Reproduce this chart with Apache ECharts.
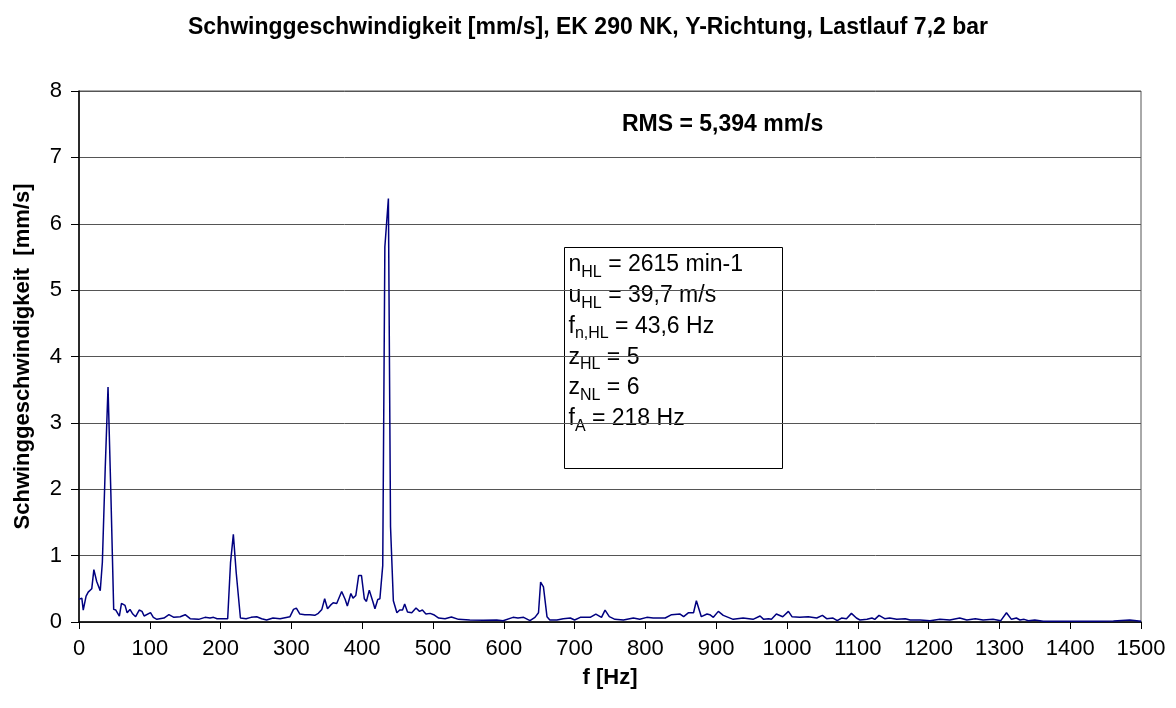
<!DOCTYPE html>
<html>
<head>
<meta charset="utf-8">
<script src="https://cdn.jsdelivr.net/npm/echarts@6/dist/echarts.min.js"></script>
<style>
html, body { margin: 0; padding: 0; background: #fff; }
#chart { width: 1176px; height: 708px; }
</style>
</head>
<body>
<div id="chart"></div>
<script>
// Frequenz [Hz] und Schwinggeschwindigkeit [mm/s]
var freqHz = [0, 4, 6, 10, 13, 18, 21, 25, 30, 33, 37, 41, 45, 49, 52, 57, 60, 65, 68, 72, 76, 80, 85, 89, 92,
    101, 105, 110, 120, 127, 134, 143, 150, 157, 169, 178, 185, 190, 195, 210, 214, 218, 222, 228, 236, 243,
    251, 258, 265, 274, 284, 298, 303, 307, 312, 319, 326, 333, 338, 343, 347, 351, 355, 359, 364, 371, 376,
    379, 384, 387, 391, 395, 399, 403, 406, 410, 415, 418, 422, 425, 429, 432, 437, 440, 444, 449, 453, 457,
    460, 464, 470, 476, 481, 485, 490, 496, 501, 508, 517, 526, 536, 552, 571, 590, 599, 613, 620, 628, 637,
    644, 649, 652, 656, 661, 665, 675, 684, 694, 700, 708, 722, 730, 738, 743, 749, 757, 769, 783, 792, 802,
    811, 828, 837, 849, 854, 861, 868, 872, 879, 887, 891, 896, 903, 910, 924, 938, 952, 962, 967, 974, 978,
    985, 994, 1002, 1007, 1018, 1030, 1042, 1050, 1056, 1065, 1071, 1077, 1084, 1091, 1098, 1103, 1113, 1120,
    1124, 1130, 1138, 1145, 1155, 1167, 1174, 1188, 1202, 1216, 1230, 1244, 1254, 1266, 1277, 1291, 1302,
    1310, 1317, 1324, 1329, 1335, 1341, 1350, 1362, 1390, 1414, 1437, 1461, 1484, 1494, 1500];
var velocity = [0.34, 0.36, 0.18, 0.39, 0.45, 0.5, 0.79, 0.61, 0.47, 0.9, 2.3, 3.54, 1.94, 0.19, 0.18, 0.09,
    0.28, 0.25, 0.14, 0.19, 0.12, 0.08, 0.18, 0.16, 0.09,
    0.14, 0.07, 0.04, 0.06, 0.11, 0.07, 0.08, 0.11, 0.05, 0.04, 0.07, 0.06, 0.07, 0.05, 0.05, 0.89, 1.32, 0.75,
    0.06, 0.05, 0.07,
    0.08, 0.05, 0.03, 0.06, 0.05, 0.08, 0.19, 0.21, 0.12, 0.11, 0.11, 0.10, 0.13, 0.19, 0.35, 0.20, 0.25, 0.29,
    0.28, 0.46, 0.34,
    0.24, 0.43, 0.36, 0.40, 0.70, 0.70, 0.35, 0.31, 0.48, 0.31, 0.20, 0.34, 0.35, 0.85, 5.65, 6.38, 1.44, 0.32,
    0.14, 0.18, 0.18,
    0.27, 0.15, 0.14, 0.21, 0.16, 0.18, 0.12, 0.13, 0.11, 0.06, 0.05, 0.075, 0.04, 0.03, 0.025, 0.03, 0.02, 0.07,
    0.06, 0.07, 0.02,
    0.07, 0.14, 0.60, 0.53, 0.08, 0.03, 0.03, 0.05, 0.06, 0.03, 0.07, 0.07, 0.12, 0.07, 0.18, 0.08, 0.04, 0.03,
    0.06, 0.04, 0.07,
    0.06, 0.06, 0.11, 0.12, 0.08, 0.14, 0.14, 0.32, 0.08, 0.12, 0.11, 0.07, 0.16, 0.10, 0.04, 0.06, 0.04, 0.09,
    0.04, 0.05, 0.04,
    0.12, 0.08, 0.16, 0.08, 0.07, 0.08, 0.06, 0.10, 0.05, 0.06, 0.02, 0.06, 0.05, 0.13, 0.06, 0.03, 0.04, 0.06,
    0.04, 0.10, 0.05, 0.06, 0.04, 0.05, 0.03, 0.03, 0.02, 0.04, 0.03, 0.06, 0.03, 0.05, 0.03, 0.04, 0.02,
    0.14, 0.04, 0.06, 0.03, 0.04, 0.02, 0.03, 0.01, 0.01, 0.01, 0.01, 0.015, 0.03, 0.02, 0.01];

var titleText = 'Schwinggeschwindigkeit [mm/s], EK 290 NK, Y-Richtung, Lastlauf 7,2 bar';
var rmsText = 'RMS = 5,394 mm/s';
// Kennwerte: [Zeichen, Index, Rest]
var infoLines = [
    ['n', 'HL', ' = 2615 min-1'],
    ['u', 'HL', ' = 39,7 m/s'],
    ['f', 'n,HL', ' = 43,6 Hz'],
    ['z', 'HL', ' = 5'],
    ['z', 'NL', ' = 6'],
    ['f', 'A', ' = 218 Hz']
];

var font = 'Liberation Sans, Arial, sans-serif';

var points = [];
for (var i = 0; i < freqHz.length; i++) {
    points.push([freqHz[i], velocity[i]]);
}

var infoText = infoLines.map(function (l) {
    return '{m|' + l[0] + '}{s|' + l[1] + '}{m|' + l[2] + '}';
}).join('\n');

var chart = echarts.init(document.getElementById('chart'));
var option = {
    backgroundColor: '#fff',
    animation: false,
    title: {
        text: titleText,
        left: 'center',
        top: 11,
        textStyle: { fontFamily: font, fontSize: 23, fontWeight: 'bold', color: '#000' }
    },
    grid: {
        left: 79,
        right: 35,
        top: 91,
        bottom: 86,
        show: true,
        borderColor: '#555',
        borderWidth: 1
    },
    xAxis: {
        type: 'value',
        min: 0,
        max: 1500,
        interval: 100,
        name: 'f [Hz]',
        nameLocation: 'middle',
        nameGap: 45,
        nameTextStyle: { fontFamily: font, fontSize: 22, fontWeight: 'bold', color: '#000' },
        axisLine: { lineStyle: { color: '#000', width: 1.5 } },
        axisTick: { show: true, inside: false, length: 7, lineStyle: { color: '#000' } },
        axisLabel: {
            fontFamily: font, fontSize: 22, color: '#000', margin: 16,
            formatter: function (v) { return String(v); }
        },
        splitLine: { show: false }
    },
    yAxis: {
        type: 'value',
        min: 0,
        max: 8,
        interval: 1,
        name: 'Schwinggeschwindigkeit  [mm/s]',
        nameLocation: 'middle',
        nameGap: 45,
        nameTextStyle: { fontFamily: font, fontSize: 22, fontWeight: 'bold', color: '#000' },
        axisLine: { show: true, lineStyle: { color: '#000', width: 1.5 } },
        axisTick: { show: true, inside: false, length: 8, lineStyle: { color: '#000' } },
        axisLabel: { fontFamily: font, fontSize: 22, color: '#000', margin: 17 },
        splitLine: { show: true, lineStyle: { color: '#555', width: 1 } }
    },
    series: [{
        type: 'line',
        data: points,
        showSymbol: false,
        symbol: 'none',
        lineStyle: { color: '#000080', width: 1.5 },
        z: 3
    }],
    graphic: [
        {
            type: 'text',
            left: 622,
            top: 113,
            style: {
                text: rmsText,
                font: 'bold 23px ' + font,
                fill: '#000'
            },
            z: 10
        },
        {
            type: 'group',
            left: 564,
            top: 247,
            z: 10,
            children: [
                {
                    type: 'rect',
                    shape: { x: 0, y: 0, width: 218, height: 221 },
                    style: { fill: '#fff', stroke: '#000', lineWidth: 1 }
                },
                {
                    type: 'text',
                    x: 4,
                    y: 2,
                    style: {
                        text: infoText,
                        rich: {
                            m: { fontFamily: font, fontSize: 23, color: '#000', lineHeight: 30.8 },
                            s: { fontFamily: font, fontSize: 16, color: '#000', lineHeight: 17, verticalAlign: 'bottom' }
                        }
                    }
                }
            ]
        }
    ]
};
chart.setOption(option);
</script>
</body>
</html>
